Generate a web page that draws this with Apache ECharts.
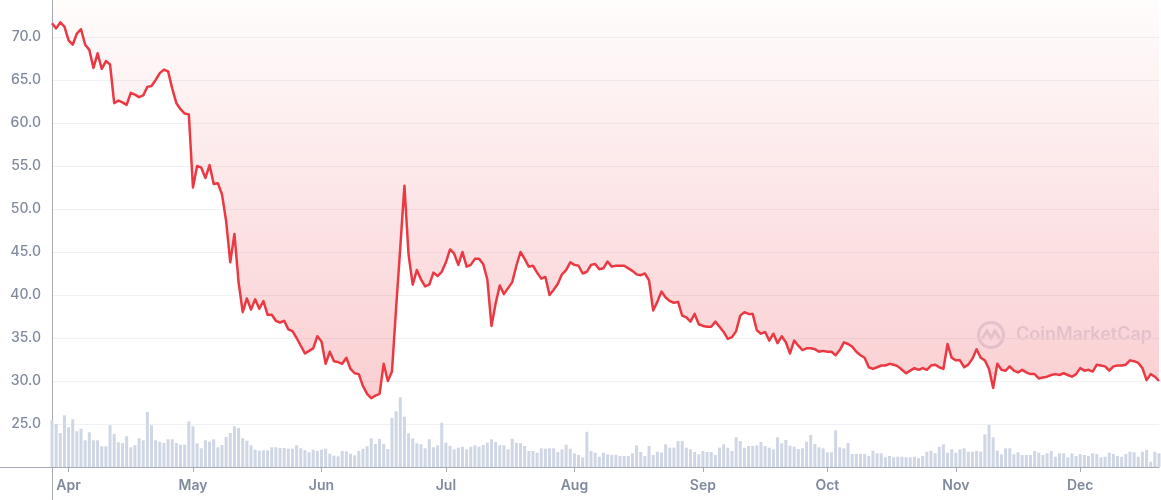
<!DOCTYPE html>
<html>
<head>
<meta charset="utf-8">
<script src="https://cdn.jsdelivr.net/npm/echarts@6/dist/echarts.min.js"></script>
<style>
html,body{margin:0;padding:0;background:#fff;}
#chart{width:1161px;height:500px;}
</style>
</head>
<body>
<div id="chart"></div>
<script>
// ---- data (daily, from 2022-03-28 to 2022-12-20) ----
const START_DATE = '2022-03-28';
const MONTH_LABELS = ['Jan','Feb','Mar','Apr','May','Jun','Jul','Aug','Sep','Oct','Nov','Dec'];
const price = [
71.6,71.0,71.7,71.2,69.6,69.1,70.4,70.9,69.1,68.5,
66.4,68.1,66.3,67.2,66.8,62.3,62.6,62.4,62.1,63.5,
63.3,63.0,63.2,64.2,64.3,65.0,65.8,66.2,66.0,64.0,
62.3,61.6,61.1,61.0,52.5,55.0,54.8,53.6,55.1,52.9,
53.0,51.7,48.6,43.8,47.1,41.5,38.0,39.6,38.3,39.5,
38.4,39.3,37.7,37.7,37.0,36.8,37.0,36.0,35.8,35.0,
34.1,33.2,33.5,33.8,35.2,34.6,32.0,33.4,32.3,32.2,
32.0,32.7,31.4,30.9,30.8,29.4,28.5,28.0,28.3,28.5,
32.0,30.0,31.1,38.5,45.5,52.7,44.7,41.2,42.9,41.8,
41.0,41.2,42.6,42.2,42.7,43.8,45.3,44.8,43.5,45.0,
43.3,43.5,44.2,44.2,43.6,41.8,36.4,39.0,41.1,40.1,
40.8,41.5,43.4,45.0,44.2,43.3,43.4,42.6,41.9,42.1,
40.0,40.6,41.3,42.4,42.9,43.8,43.5,43.4,42.5,42.7,
43.5,43.6,43.0,43.1,43.9,43.3,43.4,43.4,43.4,43.1,
42.8,42.4,42.3,42.5,41.7,38.2,39.2,40.4,39.7,39.3,
39.1,39.2,37.6,37.4,36.9,37.8,36.6,36.4,36.3,36.3,
36.9,36.3,35.7,34.9,35.1,35.8,37.6,38.0,37.8,37.8,
35.9,35.5,35.7,34.7,35.5,34.4,35.2,34.5,33.2,34.7,
34.1,33.6,33.8,33.8,33.7,33.4,33.5,33.4,33.4,33.0,
33.6,34.5,34.3,34.0,33.4,33.0,32.7,31.6,31.4,31.6,
31.8,31.8,32.0,31.9,31.7,31.3,30.9,31.2,31.5,31.3,
31.5,31.3,31.8,31.9,31.6,31.4,34.3,32.7,32.4,32.4,
31.6,31.9,32.6,33.7,32.7,32.4,31.4,29.2,32.0,31.3,
31.2,31.7,31.2,31.0,31.3,31.0,30.8,30.8,30.3,30.4,
30.5,30.7,30.8,30.7,30.9,30.7,30.5,30.8,31.5,31.2,
31.3,31.1,31.9,31.8,31.7,31.2,31.7,31.8,31.8,31.9,
32.4,32.3,32.1,31.5,30.1,30.8,30.5,30.0
];
const volume = [
46.7,43,34,51.7,39.7,47.7,35.7,38.3,26.7,34.7,
26.7,26.7,20.7,20.7,41.7,33,24.7,24,30.7,19.7,
21.7,28.7,26.7,55,41.7,26.7,25.3,24,27.7,27.7,
24,22.3,22.3,45.7,40.7,23.7,18.7,26.7,25.3,27.7,
19.7,22,30,34,40.7,39,28.7,26.3,21.7,17.3,
16.3,16.7,16.7,19.7,19.7,19,19,18.3,18.3,21.7,
18.7,16.7,14.7,17.3,16,17.3,18.3,13.3,11.3,10.7,
16,15.7,13.3,11.7,16,18.3,20.7,28.7,23,28,
23,18,49,55.7,69.7,50.3,33.7,28.7,23.7,22.7,
18.7,27.7,19.7,21.7,44.3,24.3,21,17.7,19.3,20.3,
17.7,20.3,21.7,20.3,22,24.3,27.7,25,21.7,21.7,
17.7,28.3,24.3,23.7,21,16,16,14.3,18.7,18.3,
18.7,18.7,15,17.7,22.3,18.3,13.7,12,9.7,35.3,
16,14.3,10.3,14.3,12.7,12,12,11,11,11,
13.7,21.7,15,11,21,12,15.3,14.3,22.7,19.3,
19.3,26,26,19.3,17.7,15,12.7,16,15,15,
12,19.3,22.7,19.3,16,29.7,26,19.3,21,21,
21.7,25,21,19.3,17.7,29.7,23.7,27,21.3,20.3,
18,18.7,25.3,32,23,19.7,18.7,14.7,14.7,36.7,
19.7,18.7,24,13,13,13,13,11,16.3,13.7,
13.7,9.7,11,9.7,10.3,10.3,9.7,9.7,10.3,8.7,
11,15.3,16.3,13.7,20.3,22.7,14.3,17.7,14.3,17.7,
18.7,15.3,15.3,16,15.3,32.7,42,29.7,16.3,12.7,
18.7,18.7,12.7,14.7,12,12,12,16,14.3,12,
13.7,16,10.3,13.7,13.7,9.7,13.7,11,13,12,
11,13.7,13,9.7,10.3,14.3,13,11,10.3,13,
15.3,14.7,10.3,15.3,17,5.3,15.3,13.7
];
const dates = [];
(function(){
  const d0 = new Date(START_DATE + 'T00:00:00Z');
  for (let i = 0; i < price.length; i++) {
    const d = new Date(d0.getTime() + i * 86400000);
    dates.push(d.toISOString().slice(0, 10));
  }
})();

const AXIS_COLOR = '#a6abb5';
const isMonthStart = (idx, val) => val.slice(8) === '01';
const chart = echarts.init(document.getElementById('chart'));
chart.setOption({
  animation: false,
  backgroundColor: '#ffffff',
  grid: { left: 52, right: 2, top: 0, bottom: 33, containLabel: false },
  xAxis: {
    type: 'category',
    data: dates,
    boundaryGap: false,
    axisLine: { show: true, lineStyle: { color: AXIS_COLOR, width: 1 } },
    axisTick: { show: true, interval: isMonthStart, length: 5, lineStyle: { color: AXIS_COLOR } },
    axisLabel: {
      interval: isMonthStart,
      formatter: v => MONTH_LABELS[parseInt(v.slice(5, 7), 10) - 1],
      color: '#808a9d', fontSize: 14, fontWeight: 600, fontFamily: 'Inter', margin: 12
    },
    splitLine: { show: false }
  },
  yAxis: [{
    type: 'value',
    min: 20, max: 74.3, interval: 5,
    axisLine: { show: true, lineStyle: { color: AXIS_COLOR, width: 1 } },
    axisTick: { show: false },
    axisLabel: {
      formatter: v => v.toFixed(1), showMinLabel: false, showMaxLabel: false,
      color: '#808a9d', fontSize: 14, fontWeight: 500, fontFamily: 'Inter', margin: 11
    },
    splitLine: { show: true, showMinLine: false, showMaxLine: false, lineStyle: { color: '#eff2f5', width: 1 } }
  }, {
    type: 'value', min: 0, max: 467, show: false,
    splitLine: { show: false }
  }],
  series: [{
    name: 'Volume',
    type: 'bar',
    yAxisIndex: 1,
    data: volume,
    barWidth: 3,
    itemStyle: { color: '#cfd6e4' },
    z: 1,
    silent: true
  }, {
    name: 'Price',
    type: 'line',
    yAxisIndex: 0,
    data: price,
    showSymbol: false,
    symbol: 'none',
    smooth: false,
    lineStyle: { color: '#ea3943', width: 2.5, join: 'round' },
    areaStyle: {
      origin: 'end',
      color: new echarts.graphic.LinearGradient(0, 0, 0, 1, [
        { offset: 0, color: 'rgba(234,57,67,0.02)' },
        { offset: 1, color: 'rgba(234,57,67,0.35)' }
      ])
    },
    z: 3
  }],
  graphic: [{
    // axis-line extensions beyond the plot corner, as in the reference
    type: 'line', silent: true, z: 5,
    shape: { x1: 0, y1: 467.5, x2: 52, y2: 467.5 },
    style: { stroke: AXIS_COLOR, lineWidth: 1 }
  }, {
    type: 'line', silent: true, z: 5,
    shape: { x1: 52.5, y1: 467, x2: 52.5, y2: 500 },
    style: { stroke: AXIS_COLOR, lineWidth: 1 }
  }, {
    type: 'group',
    left: 976, top: 320, z: 10, silent: true,
    children: [{
      type: 'circle',
      shape: { cx: 14, cy: 14, r: 12.5 },
      style: { fill: 'none', stroke: 'rgba(216,221,233,0.8)', lineWidth: 3 }
    }, {
      type: 'polyline',
      shape: { points: [[5, 18], [10, 10], [14, 17], [18, 10], [23, 18]] },
      style: { fill: 'none', stroke: 'rgba(216,221,233,0.8)', lineWidth: 3 }
    }, {
      type: 'text',
      x: 39, y: 14,
      style: {
        text: 'CoinMarketCap', fill: 'rgba(216,221,233,0.78)',
        font: '600 18px Inter', verticalAlign: 'middle', align: 'left'
      }
    }]
  }]
});
</script>
</body>
</html>
